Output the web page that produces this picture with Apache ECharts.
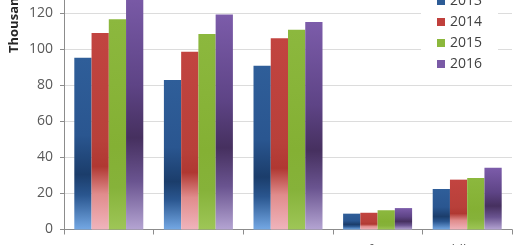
<!DOCTYPE html>
<html>
<head>
<meta charset="utf-8">
<script src="https://cdn.jsdelivr.net/npm/echarts@6/dist/echarts.min.js"></script>
<style>html,body{margin:0;padding:0;background:#fff;}#c{width:520px;height:245px;}</style>
</head>
<body>
<div id="c"></div>
<script>
const categories = ['Europe', 'Asia', 'America', 'Africa', 'Middle East'];
const years = ['2013', '2014', '2015', '2016'];
const s2013 = [95.4, 83.1, 91.0, 8.8, 22.5];
const s2014 = [109.2, 98.8, 106.2, 9.3, 27.7];
const s2015 = [116.8, 108.6, 111.0, 10.7, 28.6];
const s2016 = [134.0, 119.5, 115.3, 11.9, 34.3];
const yTicks = [0, 20, 40, 60, 80, 100, 120, 140];

const palettes = [
  {base: '#2d5c96', stops: [[0,'#2f5e99'],[0.45,'#2a5690'],[0.68,'#1b3d6b'],[0.8,'#2a568f'],[1,'#74a8e4']]},
  {base: '#c0403c', stops: [[0,'#c24440'],[0.55,'#b8403a'],[0.68,'#b03832'],[0.82,'#e08c8c'],[1,'#f0b4bc']]},
  {base: '#8cb83c', stops: [[0,'#8cb83e'],[0.6,'#84b034'],[0.8,'#86b23a'],[1,'#9ec657']]},
  {base: '#7a5aa6', stops: [[0,'#7c5caa'],[0.4,'#5e4486'],[0.62,'#46305f'],[0.8,'#6a5490'],[1,'#b4a4d2']]}
];
const seriesData = [s2013, s2014, s2015, s2016];

function grad(p) {
  return new echarts.graphic.LinearGradient(0, 0, 0, 1,
    p.stops.map(s => ({offset: s[0], color: s[1]})));
}

const chart = echarts.init(document.getElementById('c'), null, {renderer: 'canvas'});
chart.setOption({
  animation: false,
  backgroundColor: '#ffffff',
  grid: {left: 64, right: 8, top: -22.5, bottom: 15.5, containLabel: false, outerBoundsMode: 'none'},
  legend: {
    orient: 'vertical',
    left: 421,
    top: -8,
    padding: [2, 16, 4, 16],
    backgroundColor: '#ffffff',
    itemWidth: 8,
    itemHeight: 8,
    itemGap: 7,
    icon: 'rect',
    textStyle: {color: '#404040', fontSize: 14, fontFamily: 'Open Sans', lineHeight: 14},
    data: years.map((y, i) => ({name: y, itemStyle: {color: palettes[i].base}}))
  },
  xAxis: {
    type: 'category',
    data: categories,
    axisLine: {lineStyle: {color: '#8c8c8c', width: 1}},
    axisTick: {show: true, length: 5, lineStyle: {color: '#8c8c8c'}},
    axisLabel: {color: '#595959', fontSize: 13, fontFamily: 'Open Sans', margin: 14, interval: 0},
    splitLine: {show: false}
  },
  yAxis: {
    type: 'value',
    min: yTicks[0],
    max: yTicks[yTicks.length - 1],
    interval: 20,
    axisLine: {show: true, lineStyle: {color: '#8c8c8c', width: 1}},
    axisTick: {show: true, length: 4, lineStyle: {color: '#8c8c8c'}},
    axisLabel: {color: '#595959', fontSize: 14, fontFamily: 'Open Sans', margin: 11},
    splitLine: {show: true, lineStyle: {color: '#dcdcdc', width: 1}}
  },
  graphic: [{
    type: 'text',
    x: 14,
    y: 53,
    rotation: Math.PI / 2,
    style: {
      text: 'Thousands',
      fill: '#262626',
      font: 'bold 13px "Open Sans"',
      textAlign: 'left',
      textVerticalAlign: 'middle'
    }
  }],
  series: years.map((y, i) => ({
    name: y,
    type: 'bar',
    data: seriesData[i],
    barGap: '0%',
    barCategoryGap: '23%',
    itemStyle: {color: grad(palettes[i])}
  }))
});
</script>
</body>
</html>
